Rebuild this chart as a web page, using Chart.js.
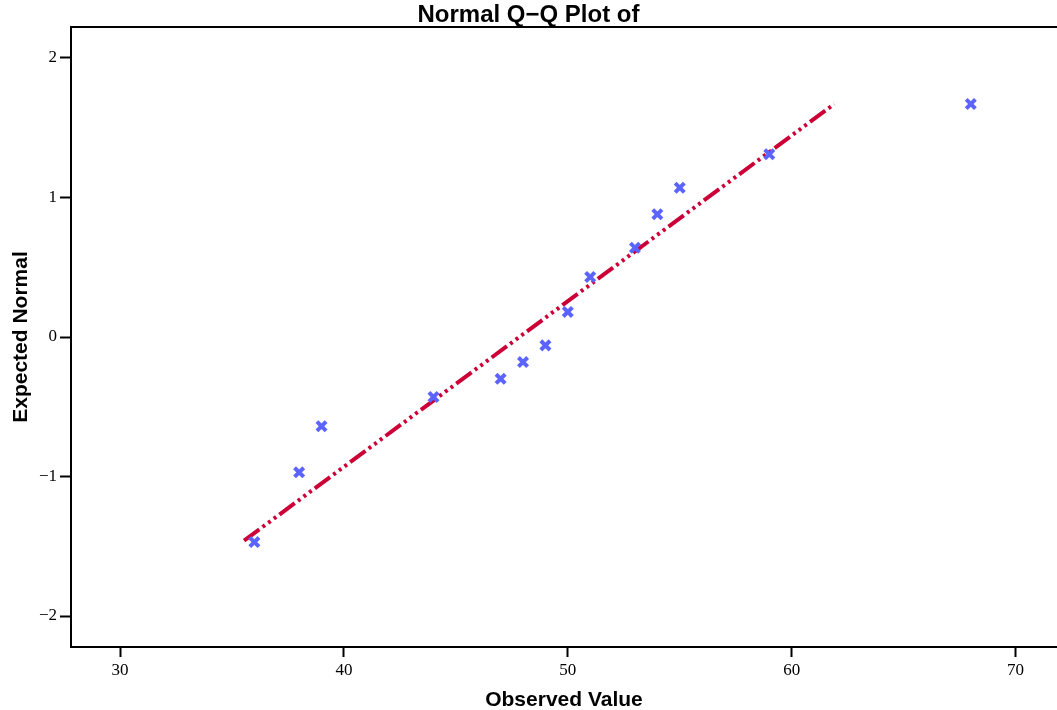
<!DOCTYPE html>
<html>
<head>
<meta charset="utf-8">
<script src="https://cdn.jsdelivr.net/npm/chart.js@4/dist/chart.umd.min.js"></script>
<style>
  html, body { margin: 0; padding: 0; background: #fff; overflow: hidden; }
  #wrap { width: 1057px; height: 710px; }
</style>
</head>
<body>
<div id="wrap"><canvas id="chart" width="1057" height="710"></canvas></div>
<script>
// observed values and their expected normal quantiles
const observed = [36, 38, 39, 44, 47, 48, 49, 50, 51, 53, 54, 55, 59, 68];
const expected = [-1.47, -0.97, -0.64, -0.43, -0.30, -0.18, -0.06, 0.18, 0.43, 0.64, 0.88, 1.07, 1.31, 1.67];

// reference line end points
const lineX = [35.54, 61.9];
const lineY = [-1.46, 1.67];

const xTicks = [30, 40, 50, 60, 70];
const yTicks = [-2, -1, 0, 1, 2];

const pts = observed.map((v, i) => ({x: v, y: expected[i]}));
const linePts = lineX.map((v, i) => ({x: v, y: lineY[i]}));

// top frame line
const frameTop = {
	id: 'frameTop',
	afterDraw(chart) {
		const a = chart.chartArea, ctx = chart.ctx;
		ctx.save();
		ctx.strokeStyle = '#000';
		ctx.lineWidth = 2;
		ctx.beginPath();
		ctx.moveTo(a.left, Math.round(a.top));
		ctx.lineTo(a.right, Math.round(a.top));
		ctx.stroke();
		ctx.restore();
	}
};

const minus = v => String(v).replace('-', '\u2212');

new Chart(document.getElementById('chart').getContext('2d'), {
	type: 'scatter',
	data: {
		datasets: [
			{
				label: 'points',
				data: pts,
				pointStyle: 'crossRot',
				pointRadius: 6.5,
				pointBorderWidth: 4,
				borderColor: '#5b64ff',
				backgroundColor: '#5b64ff',
				showLine: false
			},
			{
				label: 'line',
				type: 'line',
				data: linePts,
				borderColor: '#cc0036',
				borderWidth: 4,
				borderDash: [19, 4, 3, 4, 3, 4, 3, 4],
				pointRadius: 0,
				fill: false
			}
		]
	},
	options: {
		responsive: false,
		animation: false,
		layout: { padding: 0, autoPadding: false },
		plugins: {
			legend: { display: false },
			tooltip: { enabled: false },
			title: {
				display: true,
				text: 'Normal Q\u2212Q Plot of',
				color: '#000',
				font: { family: 'Liberation Sans', size: 24, weight: 'bold', lineHeight: 1.0 },
				padding: { top: 3, bottom: 0 }
			}
		},
		scales: {
			x: {
				type: 'linear',
				min: 27.81,
				max: 71.85,
				afterFit: s => { s.height = 63; s.paddingLeft = 0; s.paddingRight = 0; },
				afterBuildTicks: s => { s.ticks = xTicks.map(v => ({value: v})); },
				grid: { drawOnChartArea: false, drawTicks: true, tickLength: 10, tickColor: '#000', tickWidth: 2 },
				border: { display: true, color: '#000', width: 2 },
				ticks: { color: '#000', padding: 3, font: { family: 'Liberation Serif', size: 17 }, maxRotation: 0 },
				title: {
					display: true,
					text: 'Observed Value',
					color: '#000',
					font: { family: 'Liberation Sans', size: 21, weight: 'bold', lineHeight: 0.9 },
					padding: { top: 0, bottom: 0 }
				}
			},
			y: {
				type: 'linear',
				min: -2.222,
				max: 2.222,
				afterFit: s => { s.width = 71; s.paddingTop = 0; s.paddingBottom = 0; },
				afterBuildTicks: s => { s.ticks = yTicks.map(v => ({value: v})); },
				grid: { drawOnChartArea: false, drawTicks: true, tickLength: 11, tickColor: '#000', tickWidth: 2 },
				border: { display: true, color: '#000', width: 2 },
				ticks: { color: '#000', padding: 3, font: { family: 'Liberation Serif', size: 17 }, callback: v => minus(v) },
				title: {
					display: true,
					text: 'Expected Normal',
					color: '#000',
					font: { family: 'Liberation Sans', size: 21, weight: 'bold' },
					padding: { top: 9, bottom: 0 }
				}
			}
		}
	},
	plugins: [frameTop]
});
</script>
</body>
</html>
